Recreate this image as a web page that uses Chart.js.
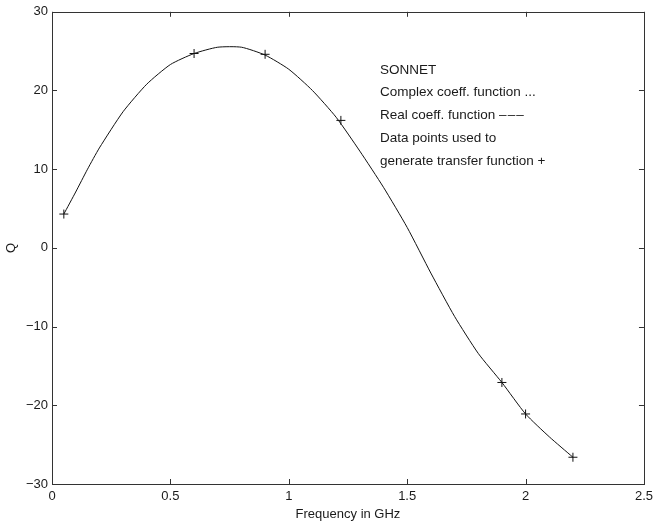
<!DOCTYPE html>
<html>
<head>
<meta charset="utf-8">
<script src="https://cdn.jsdelivr.net/npm/chart.js@4/dist/chart.umd.min.js"></script>
<style>
  body { margin: 0; background: #fff; }
  #wrap { width: 658px; height: 523px; }
</style>
</head>
<body>
<div id="wrap"><canvas id="qChart" width="658" height="523"></canvas></div>
<script>
// Frequency (GHz) of the fitted curve and its Q
const curveFreq = [0.05, 0.1, 0.15, 0.2, 0.3, 0.4, 0.5, 0.6, 0.7, 0.8, 0.9, 1.0, 1.1, 1.2, 1.3, 1.4, 1.5, 1.6, 1.7, 1.8, 1.9, 2.0, 2.1, 2.2];
const curveQ = [4.3, 7.1, 10.0, 12.7, 17.3, 20.8, 23.3, 24.7, 25.5, 25.5, 24.5, 22.7, 20.0, 16.6, 12.3, 7.7, 2.6, -3.2, -8.7, -13.4, -17.1, -21.1, -24.0, -26.6];

// Data points used to generate the transfer function
const sampleFreq = [0.05, 0.6, 0.9, 1.22, 1.9, 2.0, 2.2];
const sampleQ = [4.3, 24.7, 24.6, 16.2, -17.1, -21.1, -26.6];

const xTicks = [0, 0.5, 1, 1.5, 2, 2.5];
const yTicks = [-30, -20, -10, 0, 10, 20, 30];

const noteLines = [
    'SONNET',
    'Complex coeff. function ...',
    'Real coeff. function \u2013\u200a\u2013\u200a\u2013',
    'Data points used to',
    'generate transfer function +'
];

const FONT = '"Liberation Sans", Arial, sans-serif';
const INK = '#1a1a1a';

// frame with inward ticks and the text note
const framePlugin = {
    id: 'frame',
    afterDraw(chart) {
        const ctx = chart.ctx;
        const a = chart.chartArea;
        const xs = chart.scales.x;
        const ys = chart.scales.y;
        ctx.save();
        ctx.strokeStyle = '#333';
        ctx.lineWidth = 1;
        ctx.strokeRect(Math.round(a.left) + 0.5, Math.round(a.top) + 0.5,
            Math.round(a.right - a.left), Math.round(a.bottom - a.top));
        ctx.beginPath();
        xTicks.forEach(v => {
            const px = Math.round(xs.getPixelForValue(v)) + 0.5;
            ctx.moveTo(px, a.bottom); ctx.lineTo(px, a.bottom - 5);
            ctx.moveTo(px, a.top); ctx.lineTo(px, a.top + 5);
        });
        yTicks.forEach(v => {
            const py = Math.round(ys.getPixelForValue(v)) + 0.5;
            ctx.moveTo(a.left, py); ctx.lineTo(a.left + 5, py);
            ctx.moveTo(a.right, py); ctx.lineTo(a.right - 5, py);
        });
        ctx.stroke();

        ctx.fillStyle = INK;
        ctx.font = '13.5px ' + FONT;
        ctx.textBaseline = 'middle';
        ctx.textAlign = 'left';
        const tx = xs.getPixelForValue(1.385);
        const ty = ys.getPixelForValue(22.6);
        noteLines.forEach((t, i) => ctx.fillText(t, tx, ty + i * 22.7));
        ctx.restore();
    }
};

const ctx = document.getElementById('qChart').getContext('2d');
new Chart(ctx, {
    type: 'scatter',
    data: {
        datasets: [
            {
                type: 'line',
                label: 'Complex coeff. function',
                data: curveFreq.map((f, i) => ({ x: f, y: curveQ[i] })),
                borderColor: '#111',
                borderWidth: 1,
                pointRadius: 0,
                fill: false,
                tension: 0.2
            },
            {
                label: 'Data points',
                data: sampleFreq.map((f, i) => ({ x: f, y: sampleQ[i] })),
                pointStyle: 'cross',
                pointRadius: 4.5,
                borderColor: '#111',
                borderWidth: 1,
                backgroundColor: '#111'
            }
        ]
    },
    options: {
        responsive: false,
        animation: false,
        layout: { padding: { top: 11, right: 7, left: 0, bottom: 0 } },
        plugins: {
            legend: { display: false },
            tooltip: { enabled: false }
        },
        scales: {
            x: {
                type: 'linear',
                min: 0,
                max: 2.5,
                afterFit: s => { s.height = 39; },
                afterBuildTicks: s => { s.ticks = xTicks.map(v => ({ value: v })); },
                grid: { display: false, drawTicks: false },
                border: { display: false },
                ticks: {
                    color: INK,
                    font: { family: FONT, size: 13 },
                    padding: 5,
                    maxRotation: 0,
                    callback: v => String(v)
                },
                title: {
                    display: true,
                    text: 'Frequency in GHz',
                    color: INK,
                    font: { family: FONT, size: 13 },
                    padding: { top: 0, bottom: 1 }
                }
            },
            y: {
                type: 'linear',
                min: -30,
                max: 30,
                afterFit: s => { s.width = 52; },
                afterBuildTicks: s => { s.ticks = yTicks.map(v => ({ value: v })); },
                grid: { display: false, drawTicks: false },
                border: { display: false },
                ticks: {
                    color: INK,
                    font: { family: FONT, size: 13 },
                    padding: 4,
                    callback: v => String(v).replace('-', '\u2212')
                },
                title: {
                    display: true,
                    text: 'Q',
                    color: INK,
                    font: { family: FONT, size: 13 },
                    padding: { top: 4, bottom: 0 }
                }
            }
        }
    },
    plugins: [framePlugin]
});
</script>
</body>
</html>
